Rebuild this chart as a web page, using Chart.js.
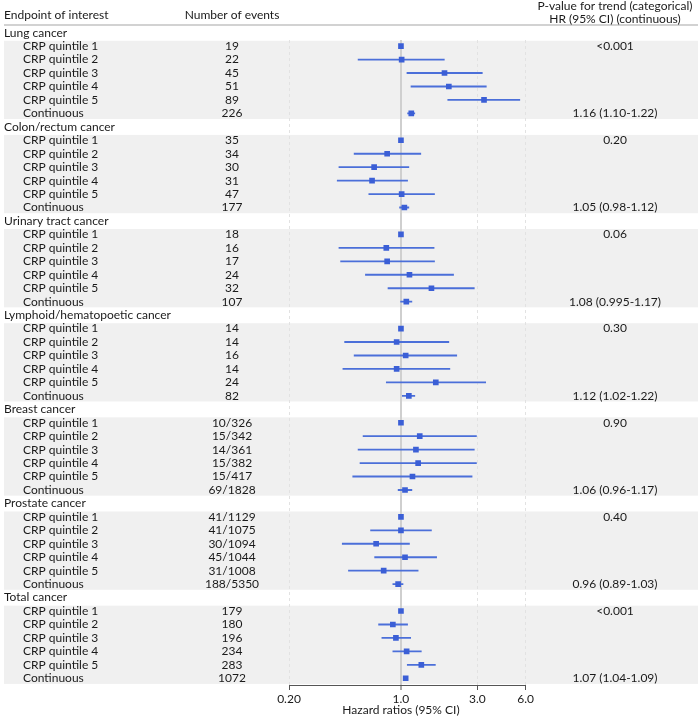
<!DOCTYPE html>
<html>
<head>
<meta charset="utf-8">
<script src="https://cdn.jsdelivr.net/npm/chart.js@4.4.1/dist/chart.umd.min.js"></script>
<style>
html,body{margin:0;padding:0;background:#fff;}
#wrap{width:698px;height:720px;position:relative;}
</style>
</head>
<body>
<div id="wrap"><canvas id="c" width="698" height="720"></canvas></div>
<script>
const groups = ["Lung cancer","Colon/rectum cancer","Urinary tract cancer","Lymphoid/hematopoetic cancer","Breast cancer","Prostate cancer","Total cancer"];
const rowLabels = ["CRP quintile 1","CRP quintile 2","CRP quintile 3","CRP quintile 4","CRP quintile 5","Continuous"];
const events = [
  ["19","22","45","51","89","226"],
  ["35","34","30","31","47","177"],
  ["18","16","17","24","32","107"],
  ["14","14","16","14","24","82"],
  ["10/326","15/342","14/361","15/382","15/417","69/1828"],
  ["41/1129","41/1075","30/1094","45/1044","31/1008","188/5350"],
  ["179","180","196","234","283","1072"]
];
const hr = [
  [1.0, 1.01, 1.87, 1.99, 3.30, 1.16],
  [1.0, 0.82, 0.68, 0.66, 1.01, 1.05],
  [1.0, 0.81, 0.82, 1.13, 1.55, 1.08],
  [1.0, 0.94, 1.07, 0.94, 1.65, 1.12],
  [1.0, 1.31, 1.24, 1.28, 1.18, 1.06],
  [1.0, 1.00, 0.70, 1.06, 0.78, 0.96],
  [1.0, 0.89, 0.93, 1.085, 1.34, 1.07]
];
const lower = [
  [null, 0.54, 1.09, 1.155, 1.96, 1.10],
  [null, 0.51, 0.41, 0.40, 0.63, 0.98],
  [null, 0.41, 0.42, 0.60, 0.83, 0.995],
  [null, 0.445, 0.51, 0.434, 0.81, 1.02],
  [null, 0.58, 0.54, 0.555, 0.50, 0.96],
  [null, 0.646, 0.43, 0.685, 0.47, 0.89],
  [null, 0.725, 0.76, 0.89, 1.095, 1.04]
];
const upper = [
  [null, 1.865, 3.22, 3.41, 5.52, 1.22],
  [null, 1.33, 1.12, 1.10, 1.62, 1.12],
  [null, 1.61, 1.62, 2.13, 2.87, 1.17],
  [null, 1.99, 2.23, 2.02, 3.38, 1.22],
  [null, 2.96, 2.87, 2.96, 2.78, 1.17],
  [null, 1.55, 1.13, 1.67, 1.28, 1.03],
  [null, 1.10, 1.15, 1.34, 1.64, 1.09]
];
const pTrend = ["<0.001","0.20","0.06","0.30","0.90","0.40","<0.001"];
const hrCont = ["1.16 (1.10-1.22)","1.05 (0.98-1.12)","1.08 (0.995-1.17)","1.12 (1.02-1.22)","1.06 (0.96-1.17)","0.96 (0.89-1.03)","1.07 (1.04-1.09)"];
const tickValues = [0.2, 1, 3, 6];
const tickLabels = ["0.20","1.0","3.0","6.0"];

const ROWS_PER_GROUP = 7;
const FONT = "Lato, 'Open Sans', sans-serif";
const pts = [], cis = [];
groups.forEach((g, gi) => {
  for (let k = 0; k < 6; k++) {
    const r = gi * ROWS_PER_GROUP + 1 + k;
    pts.push({x: hr[gi][k], y: r});
    if (lower[gi][k] !== null) cis.push({y: r, x: [lower[gi][k], upper[gi][k]]});
  }
});

const textPlugin = {
  id: 'forestText',
  beforeDraw(chart) {
    const ctx = chart.ctx, y = chart.scales.y;
    ctx.save();
    ctx.fillStyle = '#f0f0f0';
    groups.forEach((g, gi) => {
      const t = y.getPixelForValue(gi * ROWS_PER_GROUP + 1 - 0.4);
      const b = y.getPixelForValue(gi * ROWS_PER_GROUP + 6 + 0.42);
      ctx.fillRect(4, t, 694, b - t);
    });
    ctx.strokeStyle = '#d2d2d2';
    ctx.lineWidth = 2;
    ctx.beginPath(); ctx.moveTo(4, 25); ctx.lineTo(698, 25); ctx.stroke();
    ctx.restore();
  },
  afterDraw(chart) {
    const ctx = chart.ctx, y = chart.scales.y, x = chart.scales.x;
    ctx.save();
    ctx.fillStyle = '#1a1a1a';
    ctx.font = '12px ' + FONT;
    ctx.textBaseline = 'middle';
    ctx.textAlign = 'left';
    ctx.fillText('Endpoint of interest', 4, 15);
    ctx.textAlign = 'center';
    ctx.fillText('Number of events', 232, 15);
    ctx.fillText('P-value for trend (categorical)', 615, 6.5);
    ctx.fillText('HR (95% CI) (continuous)', 615, 19);
    groups.forEach((g, gi) => {
      const base = gi * ROWS_PER_GROUP;
      ctx.textAlign = 'left';
      ctx.fillText(g, 4, y.getPixelForValue(base));
      for (let k = 0; k < 6; k++) {
        const py = y.getPixelForValue(base + 1 + k);
        ctx.textAlign = 'left';
        ctx.fillText(rowLabels[k], 23, py);
        ctx.textAlign = 'center';
        ctx.fillText(events[gi][k], 232, py);
      }
      ctx.textAlign = 'center';
      ctx.fillText(pTrend[gi], 615, y.getPixelForValue(base + 1));
      ctx.fillText(hrCont[gi], 615, y.getPixelForValue(base + 6));
    });
    ctx.fillText('Hazard ratios (95% CI)', x.getPixelForValue(1), 710);
    ctx.restore();
  }
};

new Chart(document.getElementById('c'), {
  type: 'scatter',
  data: {
    datasets: [
      {
        type: 'bar', indexAxis: 'y', data: cis,
        backgroundColor: '#4b6fd9', borderWidth: 0, barThickness: 1.2, order: 2
      },
      {
        type: 'scatter', data: pts, pointStyle: 'rect', pointRadius: 4,
        backgroundColor: '#3b5fd6', borderWidth: 0, order: 1
      }
    ]
  },
  options: {
    responsive: false, animation: false,
    layout: {padding: {left: 289, right: 172.4, top: 40, bottom: 0}},
    plugins: {legend: {display: false}, tooltip: {enabled: false}},
    scales: {
      x: {
        type: 'logarithmic', min: 0.2, max: 6, offset: false,
        afterBuildTicks: s => { s.ticks = tickValues.map(v => ({value: v})); },
        afterFit: s => { s.height = 35; },
        ticks: {
          autoSkip: false, maxRotation: 0, padding: 2,
          color: '#1a1a1a', font: {family: FONT, size: 12},
          callback: (v, i) => tickLabels[i]
        },
        grid: {
          offset: false,
          color: c => (c.tick && c.tick.value === 1) ? '#cfcfcf' : '#e2e2e2',
          lineWidth: c => (c.tick && c.tick.value === 1) ? 2 : 1,
          tickLength: 5, tickColor: '#555', tickWidth: 1
        },
        border: {
          display: true, color: '#555', width: 1,
          dash: c => (c.tick && c.tick.value !== 1) ? [3, 3] : []
        }
      },
      y: {
        type: 'linear', reverse: true, min: 0.543, max: 48.5, display: false, offset: false,
        grid: {offset: false}
      }
    }
  },
  plugins: [textPlugin]
});
</script>
</body>
</html>
